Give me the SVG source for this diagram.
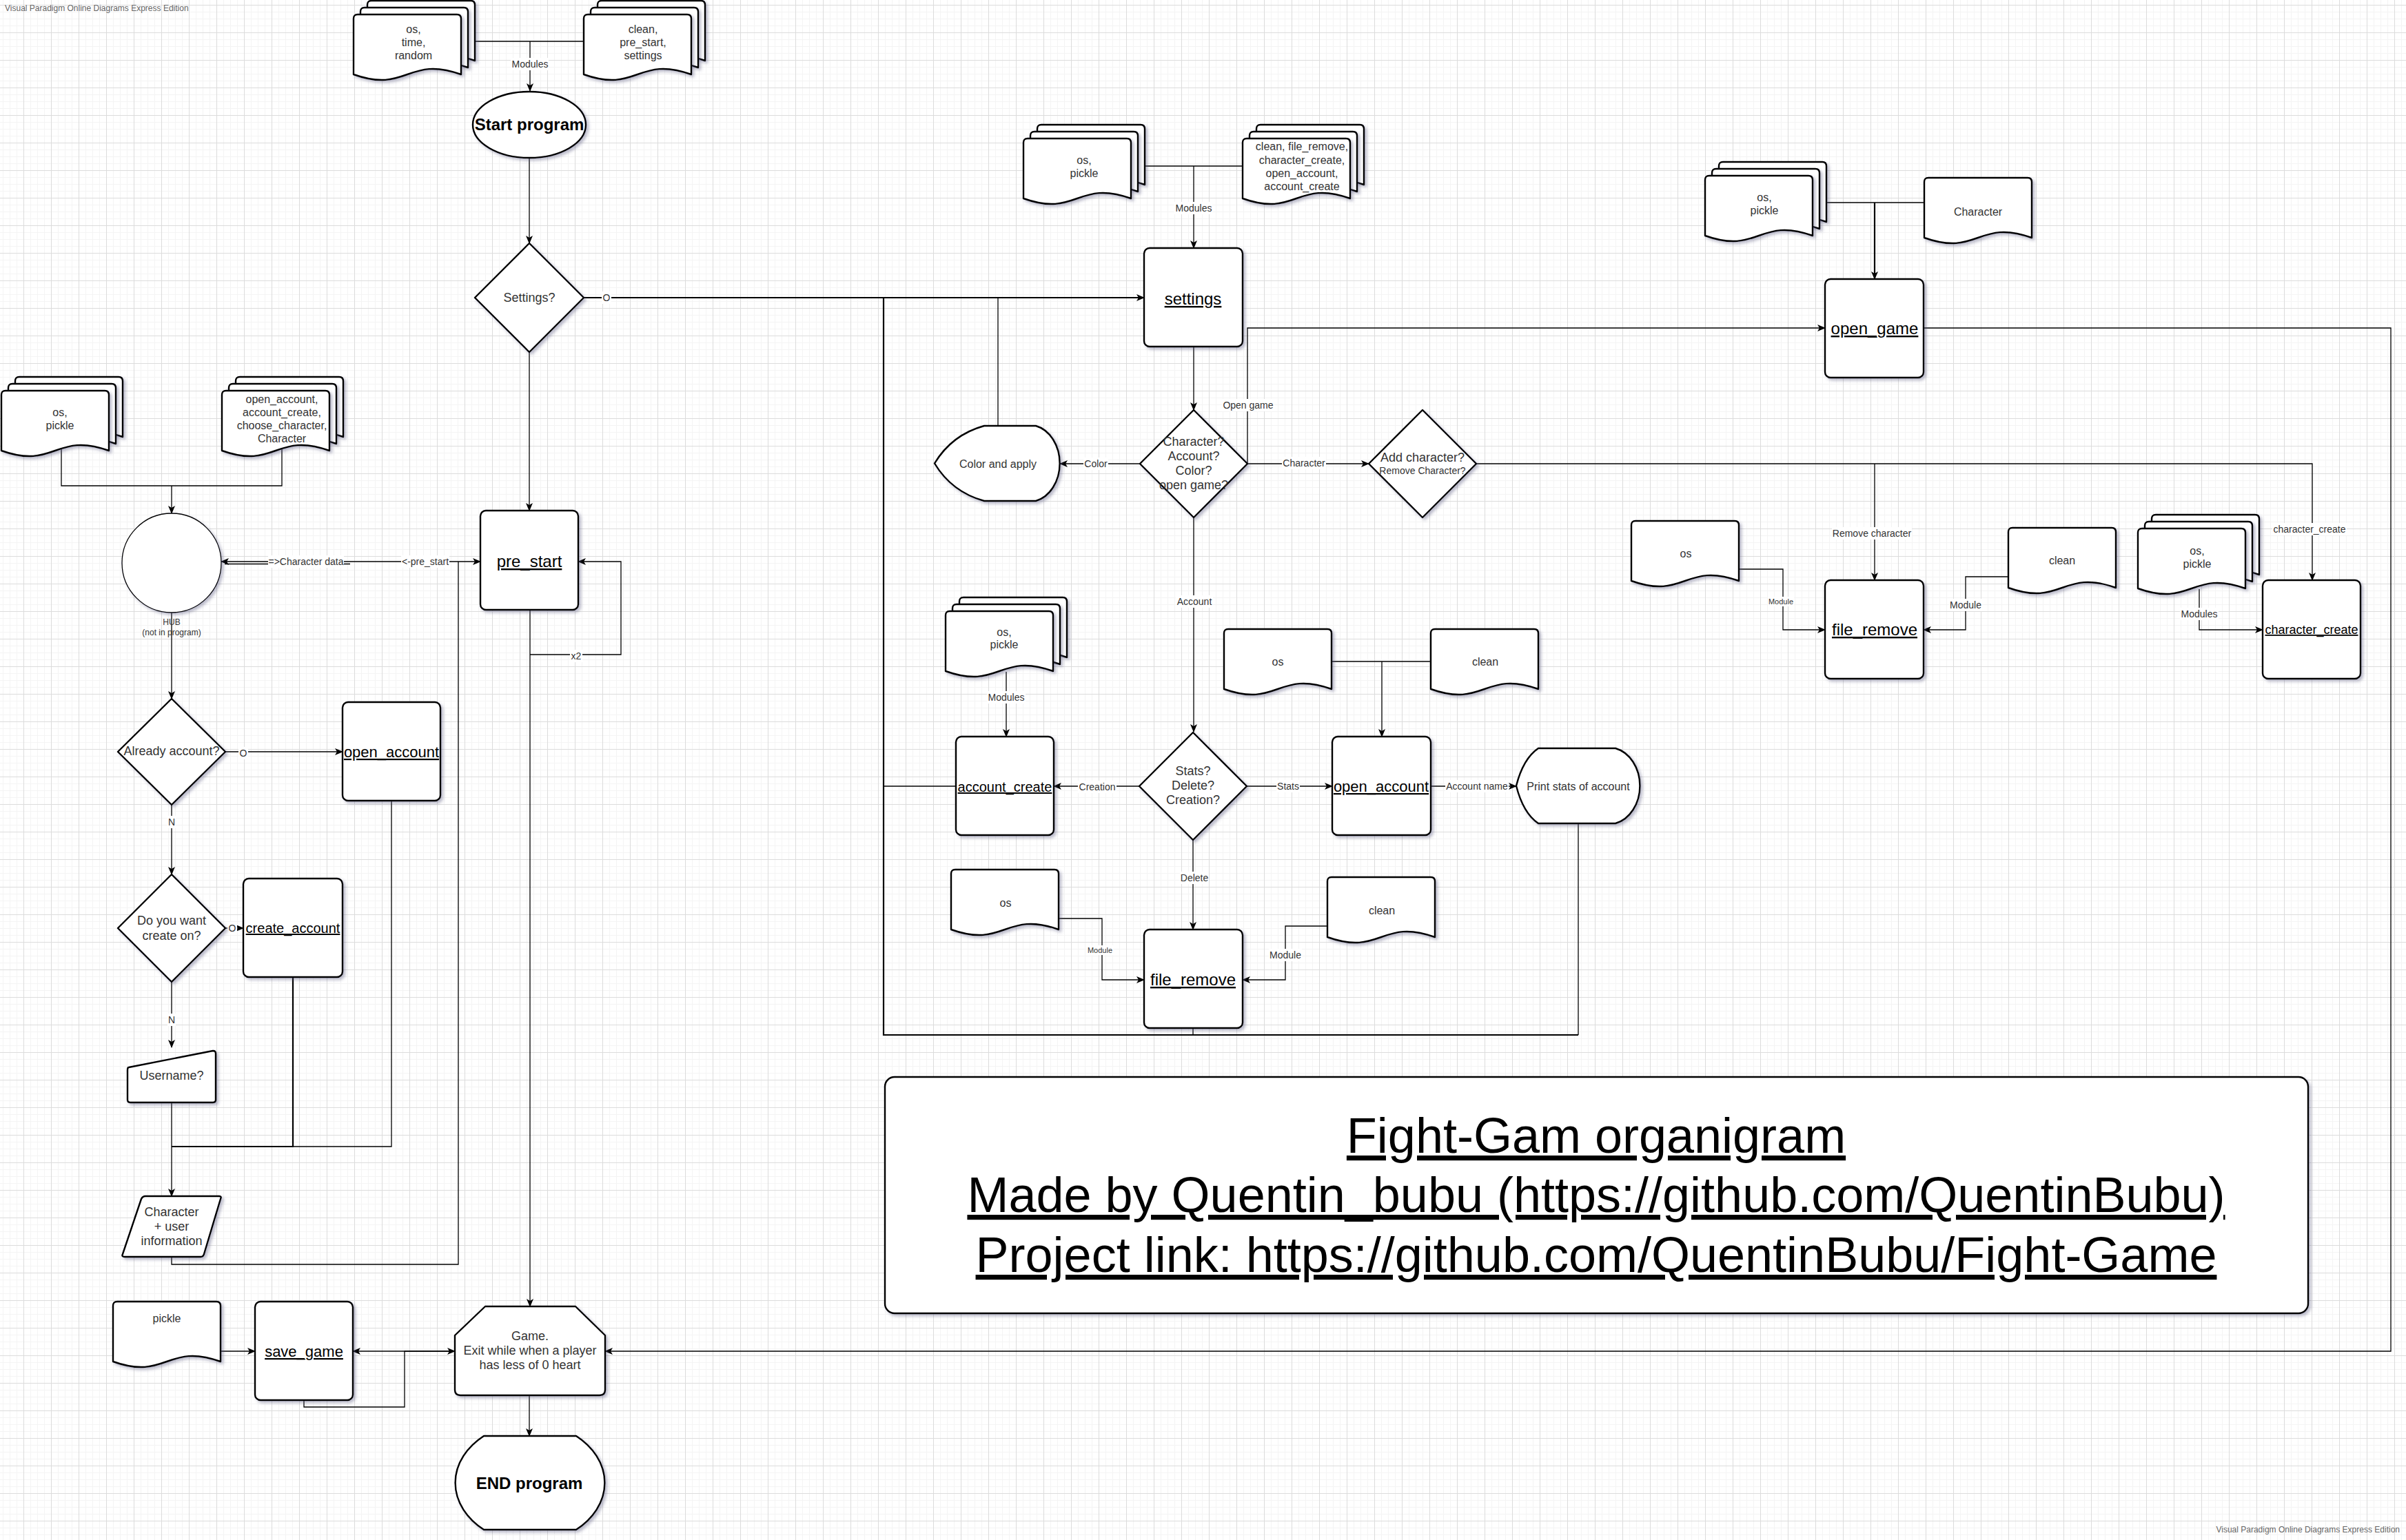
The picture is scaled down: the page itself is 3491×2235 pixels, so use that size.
<svg xmlns="http://www.w3.org/2000/svg" xmlns:xlink="http://www.w3.org/1999/xlink" width="3491" height="2235" viewBox="0 0 3491 2235">
<style>
.n{fill:#fff;stroke:#000;stroke-width:2.4;stroke-linejoin:round;filter:url(#sh)}
.thin{stroke-width:1.3}
.e{fill:none;stroke:#000;stroke-width:1.3}
.ek{stroke-width:2.2}
.a{marker-end:url(#arr)}
.t{font-family:"Liberation Sans",Arial,Helvetica,sans-serif;text-anchor:middle;fill:#333}
.t16{font-size:16px}
.t18{font-size:18px}
.nm{fill:#000;text-decoration:underline}
.b{font-weight:bold;fill:#000;font-size:24px}
.lb rect{fill:#fff}
.lb text{font-size:14px}
.lb .s{font-size:11px}
.wm{font-family:"Liberation Sans",Arial,sans-serif;font-size:12px;fill:#666}
.ttl{font-family:"Liberation Sans",Arial,sans-serif;font-size:72px;fill:#000;text-anchor:middle;text-decoration:underline}
</style>
<defs>
<pattern id="grid" x="34" y="7" width="40" height="40" patternUnits="userSpaceOnUse">
<path d="M10.5,0V40M20.5,0V40M30.5,0V40M0,10.5H40M0,20.5H40M0,30.5H40" stroke="#f4f4f4" stroke-width="1" fill="none"/>
<path d="M0.5,0V40M0,0.5H40" stroke="#dcdcdc" stroke-width="1" fill="none"/>
</pattern>
<filter id="sh" x="-10%" y="-10%" width="130%" height="130%">
<feDropShadow dx="3" dy="3" stdDeviation="2" flood-color="#55557a" flood-opacity="0.4"/>
</filter>
<marker id="arr" viewBox="0 0 12 10" refX="11" refY="5" markerWidth="12" markerHeight="10" markerUnits="userSpaceOnUse" orient="auto-start-reverse">
<path d="M0,0 L12,5 L0,10 L3,5 Z" fill="#000"/>
</marker>
<path id="doc" class="n" d="M0,6 Q0,0 6,0 H150 Q156,0 156,6 V87 C78,59 78,115 0,87 Z"/>
<g id="stack">
<use xlink:href="#doc" href="#doc" x="20" y="-20"/>
<use xlink:href="#doc" href="#doc" x="10" y="-10"/>
<use xlink:href="#doc" href="#doc"/>
</g>
</defs>

<rect width="3491" height="2235" fill="#fff"/>
<rect width="3491" height="2235" fill="url(#grid)"/>

<text class="wm" x="7" y="16">Visual Paradigm Online Diagrams Express Edition</text>
<text class="wm" x="3482" y="2224" text-anchor="end">Visual Paradigm Online Diagrams Express Edition</text>

<g id="connectors">
<path class="e" d="M680,60 H855"/>
<path class="e a" d="M769,60 V132"/>
<path class="e a" d="M768,229 V353"/>
<path class="e ek a" d="M847,432 H1660"/>
<path class="e a" d="M768,511 V741"/>
<path class="e a" d="M769,885 V1896"/>
<path class="e a" d="M769,950 H901 V815 H839"/>
<path class="e a" d="M697,815 H321" style="marker-start:url(#arr)"/>
<path class="e" d="M326,818.5 H508"/>
<path class="e" d="M249,1824 V1835 H665 V815"/>
<path class="e" d="M89,650 V705 H409 V650"/>
<path class="e a" d="M249,705 V745"/>
<path class="e a" d="M249,889 V1014"/>
<path class="e a" d="M327,1091 H497"/>
<path class="e a" d="M249,1168 V1269"/>
<path class="e a" d="M327,1347 H353"/>
<path class="e a" d="M249,1425 V1520"/>
<path class="e a" d="M249,1600 V1736"/>
<path class="e ek" d="M425,1418 V1664 H249"/>
<path class="e" d="M568,1162 V1664 H425"/>
<path class="e a" d="M315,1961 H370"/>
<path class="e a" d="M660,1961 H512"/>
<path class="e a" d="M441,2032 V2042 H587 V1961 H660"/>
<path class="e a" d="M768,2025 V2084"/>
<path class="e a" d="M2791,476 H3469 V1961 H878"/>
<path class="e" d="M1650,241 H1810"/>
<path class="e a" d="M1732,241 V360"/>
<path class="e a" d="M1732,503 V595"/>
<path class="e a" d="M1654,673 H1538"/>
<path class="e" d="M1448,618 V432"/>
<path class="e ek" d="M1282,432 V1502 H2290"/>
<path class="e" d="M1387,1141 H1282"/>
<path class="e" d="M1731,1492 V1502"/>
<path class="e" d="M2290,1195 V1502"/>
<path class="e a" d="M1732,751 V1062"/>
<path class="e a" d="M1653,1141 H1529"/>
<path class="e a" d="M1809,1141 H1933"/>
<path class="e a" d="M2076,1141 H2200"/>
<path class="e a" d="M1731,1219 V1349"/>
<path class="e a" d="M1460,975 V1069"/>
<path class="e" d="M1925,960 H2085"/>
<path class="e a" d="M2005,960 V1069"/>
<path class="e a" d="M1530,1333 H1599 V1422 H1660"/>
<path class="e a" d="M1935,1344 H1865 V1422 H1803"/>
<path class="e a" d="M1810,673 V476 H2648"/>
<path class="e a" d="M1810,673 H1986"/>
<path class="e a" d="M2142,673 H3355 V842"/>
<path class="e a" d="M2720,673 V842"/>
<path class="e" d="M2640,294 H2800"/>
<path class="e ek a" d="M2720,294 V405"/>
<path class="e a" d="M2520,826 H2587 V914 H2648"/>
<path class="e a" d="M2920,837 H2852 V914 H2791"/>
<path class="e a" d="M3191,855 V914 H3283"/>

<g class="lb t">
<rect x="741" y="84" width="55" height="18"/><text x="769" y="98">Modules</text>
<rect x="1704" y="293" width="55" height="18"/><text x="1732" y="307">Modules</text>
<rect x="873" y="423" width="14" height="18"/><text x="880" y="437">O</text>
<rect x="389" y="806" width="110" height="18"/><text x="444" y="820">=&gt;Character data</text>
<rect x="582" y="806" width="70" height="18"/><text x="617" y="820">&lt;-pre_start</text>
<rect x="827" y="943" width="18" height="18"/><text x="836" y="957">x2</text>
<rect x="346" y="1084" width="14" height="18"/><text x="353" y="1098">O</text>
<rect x="243" y="1184" width="12" height="18"/><text x="249" y="1198">N</text>
<rect x="330" y="1338" width="14" height="18"/><text x="337" y="1352">O</text>
<rect x="243" y="1471" width="12" height="18"/><text x="249" y="1485">N</text>
<rect x="1572" y="664" width="36" height="18"/><text x="1590" y="678">Color</text>
<rect x="1773" y="579" width="76" height="18"/><text x="1811" y="593">Open game</text>
<rect x="1860" y="663" width="64" height="18"/><text x="1892" y="677">Character</text>
<rect x="1706" y="864" width="54" height="18"/><text x="1733" y="878">Account</text>
<rect x="1432" y="1003" width="56" height="18"/><text x="1460" y="1017">Modules</text>
<rect x="1564" y="1133" width="56" height="18"/><text x="1592" y="1147">Creation</text>
<rect x="1852" y="1132" width="34" height="18"/><text x="1869" y="1146">Stats</text>
<rect x="2097" y="1132" width="92" height="18"/><text x="2143" y="1146">Account name</text>
<rect x="1712" y="1265" width="42" height="18"/><text x="1733" y="1279">Delete</text>
<rect x="1577" y="1372" width="38" height="14"/><text class="s" x="1596" y="1383">Module</text>
<rect x="1841" y="1377" width="48" height="18"/><text x="1865" y="1391">Module</text>
<rect x="2658" y="765" width="116" height="18"/><text x="2716" y="779">Remove character</text>
<rect x="3297" y="759" width="108" height="18"/><text x="3351" y="773">character_create</text>
<rect x="2565" y="866" width="38" height="14"/><text class="s" x="2584" y="877">Module</text>
<rect x="2828" y="869" width="48" height="18"/><text x="2852" y="883">Module</text>
<rect x="3163" y="882" width="56" height="18"/><text x="3191" y="896">Modules</text>
</g>
</g>

<g id="mods-start">
<use xlink:href="#stack" href="#stack" x="513" y="21"/>
<text class="t t16" x="600"><tspan x="600" y="47.6">os,</tspan><tspan x="600" y="66.6">time,</tspan><tspan x="600" y="85.6">random</tspan></text>
</g>
<g id="mods-start2">
<use xlink:href="#stack" href="#stack" x="847" y="21"/>
<text class="t t16"><tspan x="933" y="47.6">clean,</tspan><tspan x="933" y="66.6">pre_start,</tspan><tspan x="933" y="85.6">settings</tspan></text>
</g>
<g id="start">
<ellipse class="n" cx="768" cy="181" rx="82" ry="48"/>
<text class="t b" x="768" y="189">Start program</text>
</g>
<g id="settings-q">
<path class="n" d="M768,353 L847,432 L768,511 L689,432 Z"/>
<text class="t t18" x="768" y="438">Settings?</text>
</g>
<g id="mods-hub1">
<use xlink:href="#stack" href="#stack" x="2" y="567"/>
<text class="t t16"><tspan x="87" y="603.6">os,</tspan><tspan x="87" y="622.6">pickle</tspan></text>
</g>
<g id="mods-hub2">
<use xlink:href="#stack" href="#stack" x="322" y="567"/>
<text class="t t16"><tspan x="409" y="584.6">open_account,</tspan><tspan x="409" y="603.6">account_create,</tspan><tspan x="409" y="622.6">choose_character,</tspan><tspan x="409" y="641.6">Character</tspan></text>
</g>
<g id="hub">
<circle class="n thin" cx="249" cy="817" r="72"/>
<text class="t" font-size="12"><tspan x="249" y="907">HUB</tspan><tspan x="249" y="922">(not in program)</tspan></text>
</g>
<g id="pre_start">
<rect class="n" x="697" y="741" width="142" height="144" rx="8"/>
<text class="t nm" font-size="24" x="768" y="823">pre_start</text>
</g>
<g id="already">
<path class="n" d="M249,1014 L327,1091 L249,1168 L171,1091 Z"/>
<text class="t t18" x="249" y="1096">Already account?</text>
</g>
<g id="open_account_l">
<rect class="n" x="497" y="1019" width="142" height="143" rx="8"/>
<text class="t nm" font-size="22" x="568" y="1099">open_account</text>
</g>
<g id="want">
<path class="n" d="M249,1269 L327,1347 L249,1425 L171,1347 Z"/>
<text class="t t18"><tspan x="249" y="1342">Do you want</tspan><tspan x="249" y="1364">create on?</tspan></text>
</g>
<g id="create_account">
<rect class="n" x="353" y="1275" width="144" height="143" rx="8"/>
<text class="t nm" font-size="20" x="425" y="1354">create_account</text>
</g>
<g id="username">
<path class="n" d="M187,1549 L309,1525 Q313,1525 313,1529 V1596 Q313,1600 309,1600 H189 Q185,1600 185,1596 V1553 Q185,1549 187,1549 Z"/>
<text class="t t18" x="249" y="1567">Username?</text>
</g>
<g id="charinfo">
<path class="n" d="M211,1736 H318 Q322,1736 320,1740 L296,1820 Q295,1824 291,1824 H181 Q176,1824 178,1820 L205,1740 Q207,1736 211,1736 Z"/>
<text class="t t18"><tspan x="249" y="1765">Character</tspan><tspan x="249" y="1786">+ user</tspan><tspan x="249" y="1807">information</tspan></text>
</g>
<g id="pickle">
<use xlink:href="#doc" href="#doc" x="164" y="1889"/>
<text class="t t16" x="242" y="1918.6">pickle</text>
</g>
<g id="save_game">
<rect class="n" x="370" y="1889" width="142" height="143" rx="8"/>
<text class="t nm" font-size="22" x="441" y="1969">save_game</text>
</g>
<g id="game">
<path class="n" d="M704,1896 H835 L878,1938 V2017 Q878,2025 870,2025 H668 Q660,2025 660,2017 V1938 Z"/>
<text class="t t18"><tspan x="769" y="1945">Game.</tspan><tspan x="769" y="1966">Exit while when a player</tspan><tspan x="769" y="1987">has less of 0 heart</tspan></text>
</g>
<g id="end">
<path class="n" d="M702,2084 H836 A120 90 0 0 1 836,2220 H702 A120 90 0 0 1 702,2084 Z"/>
<text class="t b" x="768" y="2161">END program</text>
</g>

<g id="mods-settings1">
<use xlink:href="#stack" href="#stack" x="1485" y="201"/>
<text class="t t16"><tspan x="1573" y="237.6">os,</tspan><tspan x="1573" y="256.6">pickle</tspan></text>
</g>
<g id="mods-settings2">
<use xlink:href="#stack" href="#stack" x="1803" y="201"/>
<text class="t t16"><tspan x="1889" y="217.6">clean, file_remove,</tspan><tspan x="1889" y="237.6">character_create,</tspan><tspan x="1889" y="256.6">open_account,</tspan><tspan x="1889" y="275.6">account_create</tspan></text>
</g>
<g id="settings">
<rect class="n" x="1660" y="360" width="143" height="143" rx="8"/>
<text class="t nm" font-size="24" x="1731" y="442">settings</text>
</g>
<g id="color">
<path class="n" d="M1428,618 H1503 A45 56 0 0 1 1503,727 H1428 Q1381,714 1356,672.5 Q1381,631 1428,618 Z"/>
<text class="t t16" x="1448" y="678.6">Color and apply</text>
</g>
<g id="char-q">
<path class="n" d="M1732,595 L1810,673 L1732,751 L1654,673 Z"/>
<text class="t t18"><tspan x="1732" y="647">Character?</tspan><tspan x="1732" y="668">Account?</tspan><tspan x="1732" y="689">Color?</tspan><tspan x="1732" y="710">open game?</tspan></text>
</g>
<g id="addchar-q">
<path class="n" d="M2064,595 L2142,673 L2064,751 L1986,673 Z"/>
<text class="t t18" x="2064" y="670">Add character?</text>
<text class="t" font-size="14" x="2064" y="688">Remove Character?</text>
</g>
<g id="mods-account">
<use xlink:href="#stack" href="#stack" x="1372" y="887"/>
<text class="t t16"><tspan x="1457" y="922.6">os,</tspan><tspan x="1457" y="940.6">pickle</tspan></text>
</g>
<g id="account_create">
<rect class="n" x="1387" y="1069" width="142" height="143" rx="8"/>
<text class="t nm" font-size="20" x="1458" y="1149">account_create</text>
</g>
<g id="stats-q">
<path class="n" d="M1731,1063 L1809,1141 L1731,1219 L1653,1141 Z"/>
<text class="t t18"><tspan x="1731" y="1125">Stats?</tspan><tspan x="1731" y="1146">Delete?</tspan><tspan x="1731" y="1167">Creation?</tspan></text>
</g>
<g id="os1">
<use xlink:href="#doc" href="#doc" x="1776" y="913"/>
<text class="t t16" x="1854" y="965.6">os</text>
</g>
<g id="clean1">
<use xlink:href="#doc" href="#doc" x="2076" y="913"/>
<text class="t t16" x="2155" y="965.6">clean</text>
</g>
<g id="open_account_c">
<rect class="n" x="1933" y="1069" width="143" height="143" rx="8"/>
<text class="t nm" font-size="22" x="2004" y="1149">open_account</text>
</g>
<g id="printstats">
<path class="n" d="M2232,1086 H2344 A46 56 0 0 1 2344,1195 H2232 Q2210,1180 2200,1140.5 Q2210,1101 2232,1086 Z"/>
<text class="t t16" x="2290" y="1146.6">Print stats of account</text>
</g>
<g id="os2">
<use xlink:href="#doc" href="#doc" x="1380" y="1262"/>
<text class="t t16" x="1459" y="1315.6">os</text>
</g>
<g id="clean2">
<use xlink:href="#doc" href="#doc" x="1926" y="1273"/>
<text class="t t16" x="2005" y="1326.6">clean</text>
</g>
<g id="file_remove_c">
<rect class="n" x="1660" y="1349" width="143" height="143" rx="8"/>
<text class="t nm" font-size="24" x="1731" y="1430">file_remove</text>
</g>

<g id="mods-open_game">
<use xlink:href="#stack" href="#stack" x="2474" y="255"/>
<text class="t t16"><tspan x="2560" y="291.6">os,</tspan><tspan x="2560" y="310.6">pickle</tspan></text>
</g>
<g id="character-doc">
<use xlink:href="#doc" href="#doc" x="2792" y="258"/>
<text class="t t16" x="2870" y="312.6">Character</text>
</g>
<g id="open_game">
<rect class="n" x="2648" y="405" width="143" height="143" rx="8"/>
<text class="t nm" font-size="24" x="2720" y="485">open_game</text>
</g>
<g id="os3">
<use xlink:href="#doc" href="#doc" x="2367" y="756"/>
<text class="t t16" x="2446" y="808.6">os</text>
</g>
<g id="file_remove_r">
<rect class="n" x="2648" y="842" width="143" height="143" rx="8"/>
<text class="t nm" font-size="24" x="2720" y="922">file_remove</text>
</g>
<g id="clean3">
<use xlink:href="#doc" href="#doc" x="2914" y="766"/>
<text class="t t16" x="2992" y="818.6">clean</text>
</g>
<g id="mods-charcreate">
<use xlink:href="#stack" href="#stack" x="3102" y="767"/>
<text class="t t16"><tspan x="3188" y="804.6">os,</tspan><tspan x="3188" y="823.6">pickle</tspan></text>
</g>
<g id="character_create">
<rect class="n" x="3283" y="842" width="142" height="143" rx="8"/>
<text class="t nm" font-size="18" x="3354" y="920">character_create</text>
</g>

<g id="title">
<rect class="n" x="1284" y="1563" width="2065" height="343" rx="14"/>
<text class="ttl" x="2316" y="1673">Fight-Gam organigram</text>
<text class="ttl" x="2316" y="1759">Made by Quentin_bubu (https://github.com/QuentinBubu)</text>
<text class="ttl" x="2316" y="1846">Project link: https://github.com/QuentinBubu/Fight-Game</text>
</g>
</svg>
